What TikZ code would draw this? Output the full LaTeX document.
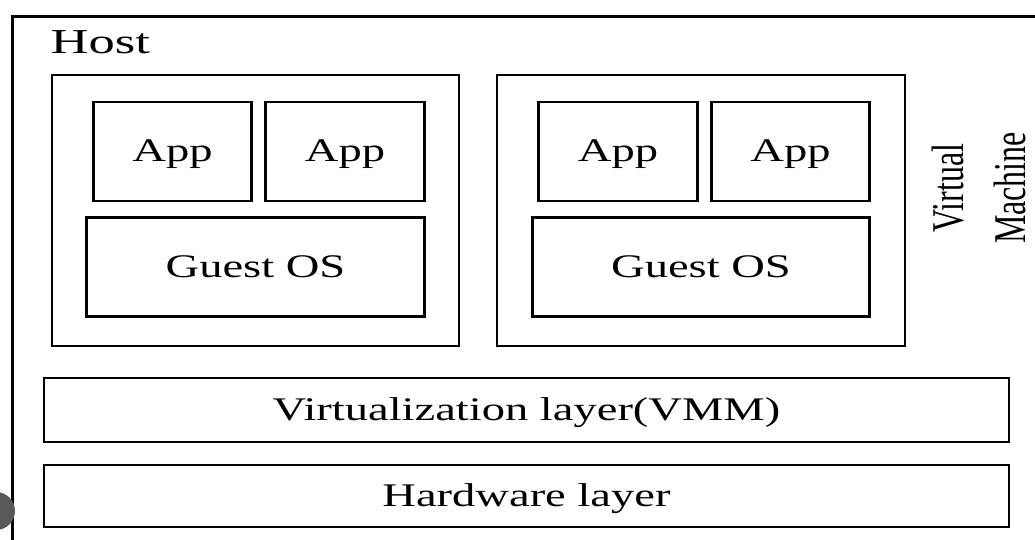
\documentclass[tikz,border=0pt]{standalone}
\usepackage{fontspec}
\setmainfont{Liberation Serif}
\usepackage{graphicx}
\newcommand{\wtext}[1]{\scalebox{1.41}[1]{#1}}
\newcommand{\vtext}[1]{\scalebox{1}[1.42]{#1}}
\begin{document}
\begin{tikzpicture}[x=1pt,y=-1pt,
  line/.style={line width=2.6pt},
  box/.style={draw, line, inner sep=0pt, text height=20pt, text depth=0pt,
    font=\fontsize{33}{40}\selectfont},
  vmbox/.style={draw, line, inner sep=0pt, minimum width=407pt, minimum height=271pt},
  appbox/.style={box, minimum width=158.5pt, minimum height=99pt},
  osbox/.style={box, minimum width=337.5pt, minimum height=99pt},
  layerbox/.style={box, minimum width=965pt},
  vmlabel/.style={rotate=90, anchor=base, inner sep=0pt, font=\fontsize{32}{38}\selectfont},
]
\clip (0,0) rectangle (1035,539);
% host frame (cropped by the picture edge)
\node[draw, line, inner sep=0pt, minimum width=1200pt, minimum height=700pt,
      anchor=north west] (host) at (11,15) {};
\node[anchor=base west, inner sep=0pt, font=\fontsize{35}{42}\selectfont]
  (hostlabel) at (50.5,53.3) {\scalebox{1.5}[1]{Host}};

% virtual machine 1
\node[vmbox] (vm1) at (255.5,210.5) {};
\node[appbox] (app1) at (172.5,151.5) {\wtext{App}};
\node[appbox] (app2) at (345,151.5) {\wtext{App}};
\node[osbox] (os1) at (255.5,267) {\wtext{Guest OS}};

% virtual machine 2
\node[vmbox, minimum width=408pt] (vm2) at (701,210.5) {};
\node[appbox] (app3) at (618,151.5) {\wtext{App}};
\node[appbox] (app4) at (790.5,151.5) {\wtext{App}};
\node[osbox] (os2) at (701,267) {\wtext{Guest OS}};

% side label
\node[vmlabel] (vmlab1) at (963,188) {\vtext{Virtual}};
\node[vmlabel] (vmlab2) at (1025,188) {\vtext{Machine}};

% layers
\node[layerbox, minimum height=64pt] (vmm) at (526.5,410)
  {\wtext{Virtualization layer(VMM)}\hspace{16pt}};
\node[layerbox, minimum height=62pt] (hw) at (526.5,496) {\wtext{Hardware layer}};

% grey marker at the left edge
\fill[black!65] (-4,511) circle[radius=19];
\end{tikzpicture}
\end{document}
